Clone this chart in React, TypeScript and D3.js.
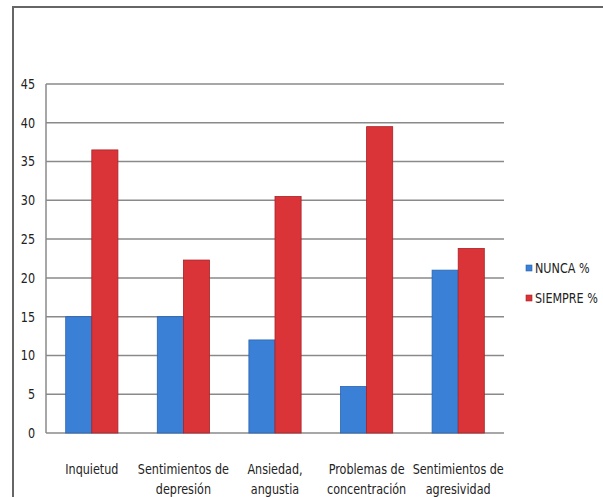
import React, { useEffect, useRef } from 'react';
import * as d3 from 'd3';

const width = 603;
const height = 497;

const categories = [
  ['Inquietud'],
  ['Sentimientos de', 'depresión'],
  ['Ansiedad,', 'angustia'],
  ['Problemas de', 'concentración'],
  ['Sentimientos de', 'agresividad'],
];
const nunca = [15, 15, 12, 6, 21];
const siempre = [36.5, 22.3, 30.5, 39.5, 23.8];
const seriesNames = ['NUNCA %', 'SIEMPRE %'];
const yTicks = [0, 5, 10, 15, 20, 25, 30, 35, 40, 45];

const colors = ['#3a80d6', '#da3439'];
const strokes = ['#2a63b0', '#a82126'];
const font = "'DejaVu Sans', sans-serif";
const squeeze = 0.8;

const App: React.FC = () => {
  const ref = useRef<SVGSVGElement>(null);

  useEffect(() => {
    if (!ref.current) return;
    const svg = d3.select(ref.current);
    svg.selectAll('*').remove();

    const left = 46;
    const right = 504;
    const top = 84;
    const bottom = 433;

    // condensed text: the original uses a narrow face
    const label = (
      g: d3.Selection<SVGGElement, unknown, null, undefined>,
      tx: number,
      ty: number,
      txt: string,
      anchor: string,
      size = 14
    ) =>
      g
        .append('text')
        .attr('transform', `translate(${tx},${ty}) scale(${squeeze},1)`)
        .attr('dy', '0.35em')
        .attr('text-anchor', anchor)
        .attr('font-family', font)
        .attr('font-size', size)
        .attr('fill', '#222')
        .text(txt);

    // outer frame, cut by the picture edges like the original
    svg
      .append('rect')
      .attr('x', 13)
      .attr('y', 7)
      .attr('width', 700)
      .attr('height', 600)
      .attr('fill', 'white')
      .attr('stroke', '#666')
      .attr('stroke-width', 2);

    const y = d3.scaleLinear().domain([0, 45]).range([bottom, top]);
    const x = d3
      .scaleBand<number>()
      .domain(d3.range(categories.length))
      .range([left, right])
      .paddingInner(0.43)
      .paddingOuter(0.215);
    const x1 = d3.scaleBand<number>().domain([0, 1]).range([0, x.bandwidth()]);

    svg
      .append('g')
      .selectAll('line')
      .data(yTicks)
      .enter()
      .append('line')
      .attr('x1', left)
      .attr('x2', right)
      .attr('y1', d => y(d))
      .attr('y2', d => y(d))
      .attr('stroke', '#8a8a8a')
      .attr('stroke-width', 1.5);

    svg
      .append('line')
      .attr('x1', left)
      .attr('x2', left)
      .attr('y1', top)
      .attr('y2', bottom)
      .attr('stroke', '#8a8a8a')
      .attr('stroke-width', 1.5);

    const ticks = svg.append('g');
    yTicks.forEach(d => label(ticks, 35, y(d), String(d), 'end'));

    const series = [nunca, siempre];
    series.forEach((vals, s) => {
      svg
        .append('g')
        .selectAll('rect')
        .data(vals)
        .enter()
        .append('rect')
        .attr('x', (_, i) => (x(i) as number) + (x1(s) as number))
        .attr('y', d => y(d))
        .attr('width', x1.bandwidth())
        .attr('height', d => bottom - y(d))
        .attr('fill', colors[s])
        .attr('stroke', strokes[s])
        .attr('stroke-width', 0.8);
    });

    const labels = svg.append('g');
    categories.forEach((lines, i) => {
      const cx = (x(i) as number) + x.bandwidth() / 2;
      lines.forEach((line, j) => label(labels, cx, 469 + j * 20, line, 'middle'));
    });

    const legend = svg.append('g');
    seriesNames.forEach((name, s) => {
      const ly = 268 + s * 30;
      legend
        .append('rect')
        .attr('x', 526)
        .attr('y', ly - 3)
        .attr('width', 6)
        .attr('height', 6)
        .attr('fill', colors[s])
        .attr('stroke', strokes[s])
        .attr('stroke-width', 0.6);
      label(legend, 535, ly, name, 'start');
    });
  }, []);

  return (
    <svg
      ref={ref}
      width={width}
      height={height}
      style={{ position: 'absolute', top: 0, left: 0, background: 'white' }}
    />
  );
};

export default App;
